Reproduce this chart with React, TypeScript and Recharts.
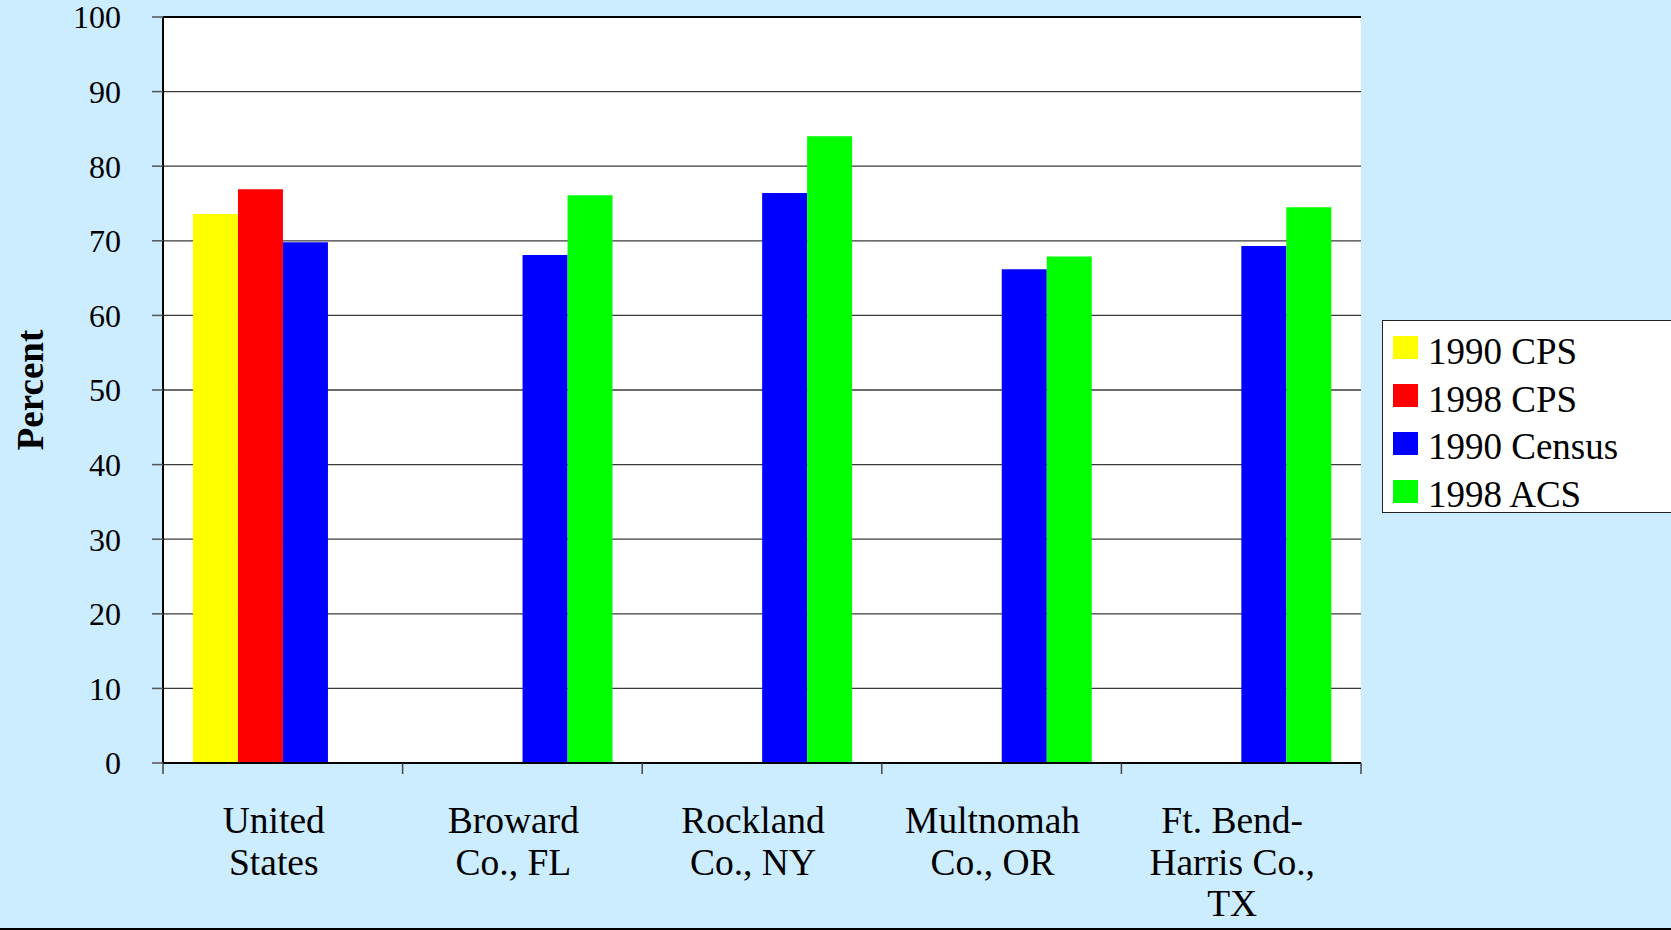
import React from "react";
import {
  BarChart,
  Bar,
  XAxis,
  YAxis,
  CartesianGrid,
  Legend,
  ReferenceLine,
} from "recharts";

const categoryLines = [
  ["United", "States"],
  ["Broward", "Co., FL"],
  ["Rockland", "Co., NY"],
  ["Multnomah", "Co., OR"],
  ["Ft. Bend-", "Harris Co.,", "TX"],
];
const cps1990 = [73.6, null, null, null, null];
const cps1998 = [76.9, null, null, null, null];
const census1990 = [69.8, 68.1, 76.4, 66.2, 69.3];
const acs1998 = [null, 76.1, 84.0, 67.9, 74.5];
const yTicks = [0, 10, 20, 30, 40, 50, 60, 70, 80, 90, 100];

const series = [
  { key: "cps1990", name: "1990 CPS", color: "#FFFF00" },
  { key: "cps1998", name: "1998 CPS", color: "#FF0000" },
  { key: "census1990", name: "1990 Census", color: "#0000FF" },
  { key: "acs1998", name: "1998 ACS", color: "#00FF00" },
];

const data = categoryLines.map((lines, i) => ({
  name: lines.join(" "),
  cps1990: cps1990[i],
  cps1998: cps1998[i],
  census1990: census1990[i],
  acs1998: acs1998[i],
}));

const font = "'Liberation Serif', 'Times New Roman', serif";
const W = 1671;
const H = 930;
const margin = { top: 17, right: 310, bottom: 0, left: 0 };
const yAxisWidth = 163;
const band = (W - margin.right - yAxisWidth) / categoryLines.length;

function CategoryTick(props: any) {
  const { x, y, index } = props;
  const lines = categoryLines[index] || [];
  const last = index === categoryLines.length - 1;
  return (
    <g>
      <line x1={x - band / 2} x2={x - band / 2} y1={y} y2={y + 11} stroke="#444" strokeWidth={1.5} />
      {last && (
        <line x1={x + band / 2} x2={x + band / 2} y1={y} y2={y + 11} stroke="#444" strokeWidth={1.5} />
      )}
      <text textAnchor="middle" fontFamily={font} fontSize={37.5} fill="#000">
        {lines.map((l, k) => (
          <tspan key={k} x={x - 9} y={y + 70 + 41.5 * k}>
            {l}
          </tspan>
        ))}
      </text>
    </g>
  );
}

function LegendBox() {
  return (
    <svg width={300} height={194} style={{ display: "block" }}>
      <rect x={0.5} y={0.5} width={320} height={192} fill="#fff" stroke="#222" strokeWidth={1} />
      {series.map((s, i) => (
        <g key={s.key}>
          <rect x={11} y={16 + 48 * i} width={25} height={23} fill={s.color} />
          <text x={46} y={44 + 47.7 * i} fontFamily={font} fontSize={37} fill="#000">
            {s.name}
          </text>
        </g>
      ))}
    </svg>
  );
}

export default function App() {
  return (
    <div
      style={{
        position: "absolute",
        left: 0,
        top: 0,
        width: W,
        height: H,
        overflow: "hidden",
        background: "#CCECFF",
      }}
    >
      <BarChart
        width={W}
        height={H}
        data={data}
        margin={margin}
        barCategoryGap="12.5%"
        barGap={0}
      >
        <CartesianGrid vertical={false} stroke="#3a3a3a" strokeWidth={1.3} fill="#fff" fillOpacity={1} />
        <XAxis
          dataKey="name"
          interval={0}
          height={H - 763}
          tickSize={0}
          tickMargin={0}
          tickLine={false}
          axisLine={{ stroke: "#000", strokeWidth: 2 }}
          tick={<CategoryTick />}
        />
        <YAxis
          width={yAxisWidth}
          domain={[0, 100]}
          ticks={yTicks}
          interval={0}
          tickSize={11}
          tickMargin={31}
          tickLine={{ stroke: "#555", strokeWidth: 1.5 }}
          axisLine={{ stroke: "#000", strokeWidth: 2 }}
          tick={{ fontFamily: font, fontSize: 32, fill: "#000" }}
          label={({ viewBox }: any) => (
            <text
              x={30}
              y={viewBox.y + viewBox.height / 2}
              transform={`rotate(-90 30 ${viewBox.y + viewBox.height / 2})`}
              textAnchor="middle"
              dominantBaseline="central"
              fontFamily={font}
              fontWeight="bold"
              fontSize={37}
              fill="#000"
            >
              Percent
            </text>
          )}
        />
        <YAxis
          yAxisId="right"
          orientation="right"
          width={0}
          tick={false}
          tickLine={false}
          axisLine={{ stroke: "#000", strokeWidth: 2 }}
        />
        <ReferenceLine y={100} stroke="#000" strokeWidth={2} />
        <Legend
          layout="vertical"
          align="center"
          verticalAlign="middle"
          wrapperStyle={{ left: 1382, top: 320, width: 300, height: 194 }}
          content={() => <LegendBox />}
        />
        {series.map((s) => (
          <Bar key={s.key} dataKey={s.key} name={s.name} fill={s.color} isAnimationActive={false} />
        ))}
      </BarChart>
      <div
        style={{
          position: "absolute",
          left: 0,
          top: H - 2,
          width: W,
          height: 2,
          background: "#000",
        }}
      />
    </div>
  );
}
